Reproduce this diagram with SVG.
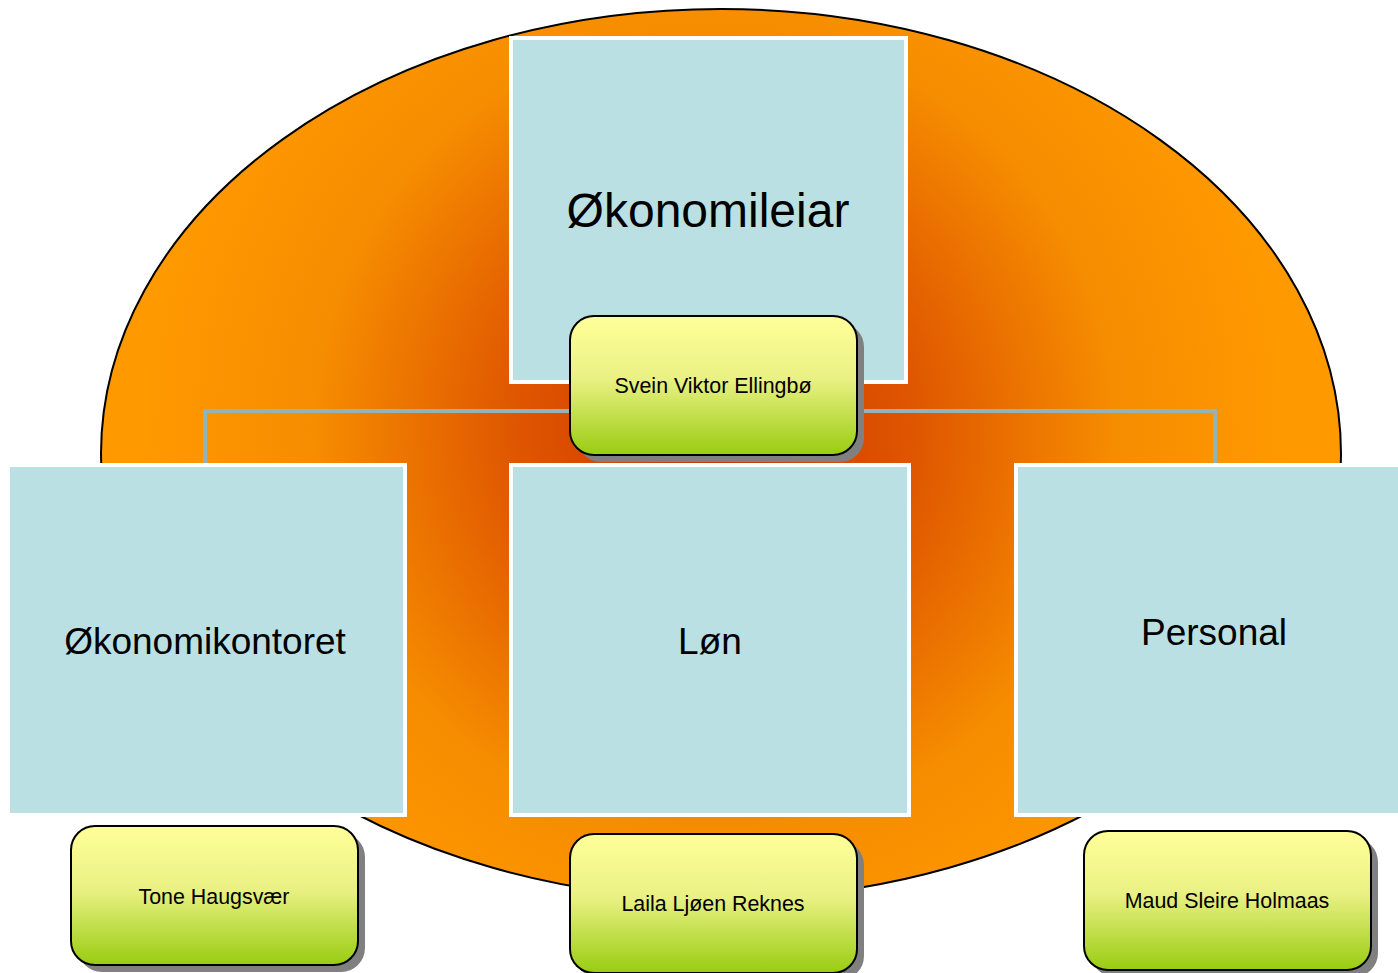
<svg xmlns="http://www.w3.org/2000/svg" width="1398" height="973" viewBox="0 0 1398 973">
<defs>
<radialGradient id="bg" gradientUnits="userSpaceOnUse" cx="715" cy="430" r="570">
<stop offset="0" stop-color="#cc3300"/>
<stop offset="0.35" stop-color="#df5600"/>
<stop offset="0.7" stop-color="#f68c00"/>
<stop offset="1" stop-color="#ff9900"/>
</radialGradient>
<linearGradient id="yg" x1="0" y1="0" x2="0" y2="1">
<stop offset="0" stop-color="#ffff99"/>
<stop offset="0.45" stop-color="#eaf184"/>
<stop offset="1" stop-color="#99cc11"/>
</linearGradient>
<style>
.unit{fill:#bbe0e3;stroke:#ffffff;stroke-width:4}
.big{font-family:"Liberation Sans",Arial,sans-serif;fill:#000;text-anchor:middle}
.person{fill:url(#yg);stroke:#000;stroke-width:2}
.shadow{fill:#808080}
.small{font-family:"Liberation Sans",Arial,sans-serif;font-size:21.4px;fill:#000;text-anchor:middle}
.conn{fill:none;stroke:#94b3b6;stroke-width:4}
</style>
</defs>
<rect width="1398" height="973" fill="#ffffff"/>
<g id="background">
<ellipse cx="721" cy="454" rx="620" ry="445" fill="url(#bg)" stroke="#000" stroke-width="2"/>
</g>
<g id="connectors">
<polyline class="conn" points="205,465 205,411 1215,411 1215,465"/>
<line class="conn" x1="710" y1="382" x2="710" y2="411"/>
</g>
<g id="node-okonomileiar">
<rect class="unit" x="511" y="38" width="395" height="344"/>
<text class="big" x="708" y="227" font-size="48">Økonomileiar</text>
</g>
<g id="node-okonomikontoret">
<rect class="unit" x="8" y="465" width="397" height="350"/>
<text class="big" x="205" y="654" font-size="37">Økonomikontoret</text>
</g>
<g id="node-lon">
<rect class="unit" x="511" y="465" width="398" height="350"/>
<text class="big" x="710" y="654" font-size="37">Løn</text>
</g>
<g id="node-personal">
<rect class="unit" x="1016" y="465" width="386" height="350"/>
<text class="big" x="1214" y="645" font-size="37">Personal</text>
</g>
<g id="person-svein">
<rect class="shadow" x="577" y="323" width="287" height="139" rx="24"/>
<rect class="person" x="570" y="316" width="287" height="139" rx="24"/>
<text class="small" x="713" y="393">Svein Viktor Ellingbø</text>
</g>
<g id="person-tone">
<rect class="shadow" x="78" y="833" width="287" height="139" rx="24"/>
<rect class="person" x="71" y="826" width="287" height="139" rx="24"/>
<text class="small" x="214" y="904">Tone Haugsvær</text>
</g>
<g id="person-laila">
<rect class="shadow" x="577" y="841" width="287" height="139" rx="24"/>
<rect class="person" x="570" y="834" width="287" height="139" rx="24"/>
<text class="small" x="713" y="911">Laila Ljøen Reknes</text>
</g>
<g id="person-maud">
<rect class="shadow" x="1091" y="838" width="287" height="139" rx="24"/>
<rect class="person" x="1084" y="831" width="287" height="139" rx="24"/>
<text class="small" x="1227" y="908">Maud Sleire Holmaas</text>
</g>
</svg>
